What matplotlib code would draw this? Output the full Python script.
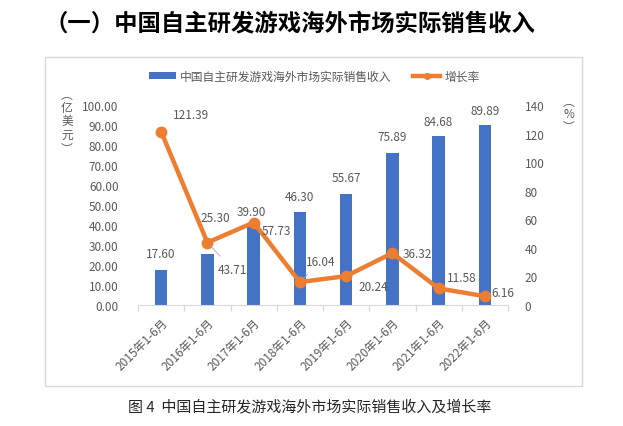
import matplotlib.pyplot as plt
from matplotlib.patches import Rectangle
from matplotlib.lines import Line2D
from matplotlib.patches import Patch
import numpy as np

plt.rcParams['font.family'] = ['Noto Sans CJK SC', 'DejaVu Sans']

# data
periods = ["2015年1-6月", "2016年1-6月", "2017年1-6月", "2018年1-6月",
           "2019年1-6月", "2020年1-6月", "2021年1-6月", "2022年1-6月"]
revenue = [17.60, 25.30, 39.90, 46.30, 55.67, 75.89, 84.68, 89.89]
growth = [121.39, 43.71, 57.73, 16.04, 20.24, 36.32, 11.58, 6.16]
left_ticks = [0, 10, 20, 30, 40, 50, 60, 70, 80, 90, 100]
right_ticks = [0, 20, 40, 60, 80, 100, 120, 140]

title = "（一）中国自主研发游戏海外市场实际销售收入"
caption = "图 4  中国自主研发游戏海外市场实际销售收入及增长率"
bar_name = "中国自主研发游戏海外市场实际销售收入"
line_name = "增长率"

# styling
bar_colour = "#4472C4"
line_colour = "#ED7D31"
text_colour = "#595959"
axis_colour = "#D9D9D9"
fs = 8.5
PX = 0.72  # pixel -> points at 100 dpi

# label offsets in pixels (dx, dy up)
bar_label_off = [(0, 16), (8, 37), (-2, 14), (0, 16), (0, 16), (0, 17), (0, 14), (0, 15)]
line_label_off = [(30, 17), (25, -27), (23, -8), (21, 21), (27, -10), (25, 0), (23, 11), (18, 4)]
leader = [False, True, False, True, False, False, False, False]

fig = plt.figure(figsize=(6.23, 4.27), dpi=100)
W, H = 623, 427

# frame around chart
fig.patches.append(Rectangle((45 / W, 1 - 387 / H), (582 - 45) / W, (387 - 58) / H,
                             transform=fig.transFigure, fill=False,
                             edgecolor=axis_colour, linewidth=1.0))

ax1 = fig.add_axes([138 / W, 1 - 306 / H, (508 - 138) / W, 200 / H])
x = np.arange(len(periods))

ax1.bar(x, revenue, width=0.27, color=bar_colour, zorder=2)
ax1.set_xlim(-0.5, len(periods) - 0.5)
ax1.set_ylim(0, 100)
ax1.set_yticks(left_ticks)
ax1.set_yticklabels([f"{v:.2f}" for v in left_ticks])
ax1.tick_params(axis='y', length=0, pad=14, labelsize=fs, labelcolor=text_colour)
ax1.set_xticks(x)
ax1.set_xticklabels(periods, rotation=45, ha='right', rotation_mode='anchor')
ax1.tick_params(axis='x', which='major', length=0, pad=8, labelsize=fs, labelcolor=text_colour)
ax1.set_xticks(np.arange(-0.5, len(periods)), minor=True)
ax1.tick_params(axis='x', which='minor', length=4, color=axis_colour, width=1)
for s in ["top", "left", "right"]:
    ax1.spines[s].set_visible(False)
ax1.spines["bottom"].set_color(axis_colour)

for i, v in enumerate(revenue):
    dx, dy = bar_label_off[i]
    ax1.annotate(f"{v:.2f}", (x[i], v), xytext=(dx * PX, dy * PX), textcoords="offset points",
                 ha='center', va='center', fontsize=fs, color=text_colour, zorder=5)

ax2 = ax1.twinx()
ax2.plot(x, growth, color=line_colour, linewidth=3.2, marker='o', markersize=7.5,
         solid_capstyle='round', zorder=3)
ax2.set_ylim(0, 140)
ax2.set_yticks(right_ticks)
ax2.tick_params(axis='y', length=0, pad=12, labelsize=fs, labelcolor=text_colour)
for s in ["top", "left", "right", "bottom"]:
    ax2.spines[s].set_visible(False)

for i, v in enumerate(growth):
    dx, dy = line_label_off[i]
    arrow = dict(arrowstyle='-', color="#A6A6A6", lw=0.6, shrinkA=4, shrinkB=3) if leader[i] else None
    ax2.annotate(f"{v:.2f}", (x[i], v), xytext=(dx * PX, dy * PX), textcoords="offset points",
                 ha='center', va='center', fontsize=fs, color=text_colour,
                 arrowprops=arrow, zorder=5)

# axis unit labels
fig.text(67 / W, 1 - 122 / H, "︵\n亿\n美\n元\n︶", ha='center', va='center',
         fontsize=fs, color=text_colour, linespacing=1.05)
fig.text(569 / W, 1 - 115 / H, "︵\n%\n︶", ha='center', va='center',
         fontsize=fs, color=text_colour, linespacing=1.0)

# legend
handles = [Patch(facecolor=bar_colour, edgecolor='none'),
           Line2D([0], [0], color=line_colour, linewidth=3.2, marker='o', markersize=4)]
fig.legend(handles, [bar_name, line_name], loc='center', bbox_to_anchor=(314 / W, 1 - 77 / H),
           ncol=2, frameon=False, fontsize=fs, labelcolor=text_colour,
           handlelength=2.3, handleheight=0.6, handletextpad=0.3, columnspacing=1.9)

# title and caption
fig.text(45 / W, 1 - 23 / H, title, ha='left', va='center', fontsize=16.8,
         fontweight='bold', color="#000000")
fig.text(310 / W, 1 - 407 / H, caption, ha='center', va='center', fontsize=10.8,
         color="#262626")

fig.savefig("out.png", dpi=100)
